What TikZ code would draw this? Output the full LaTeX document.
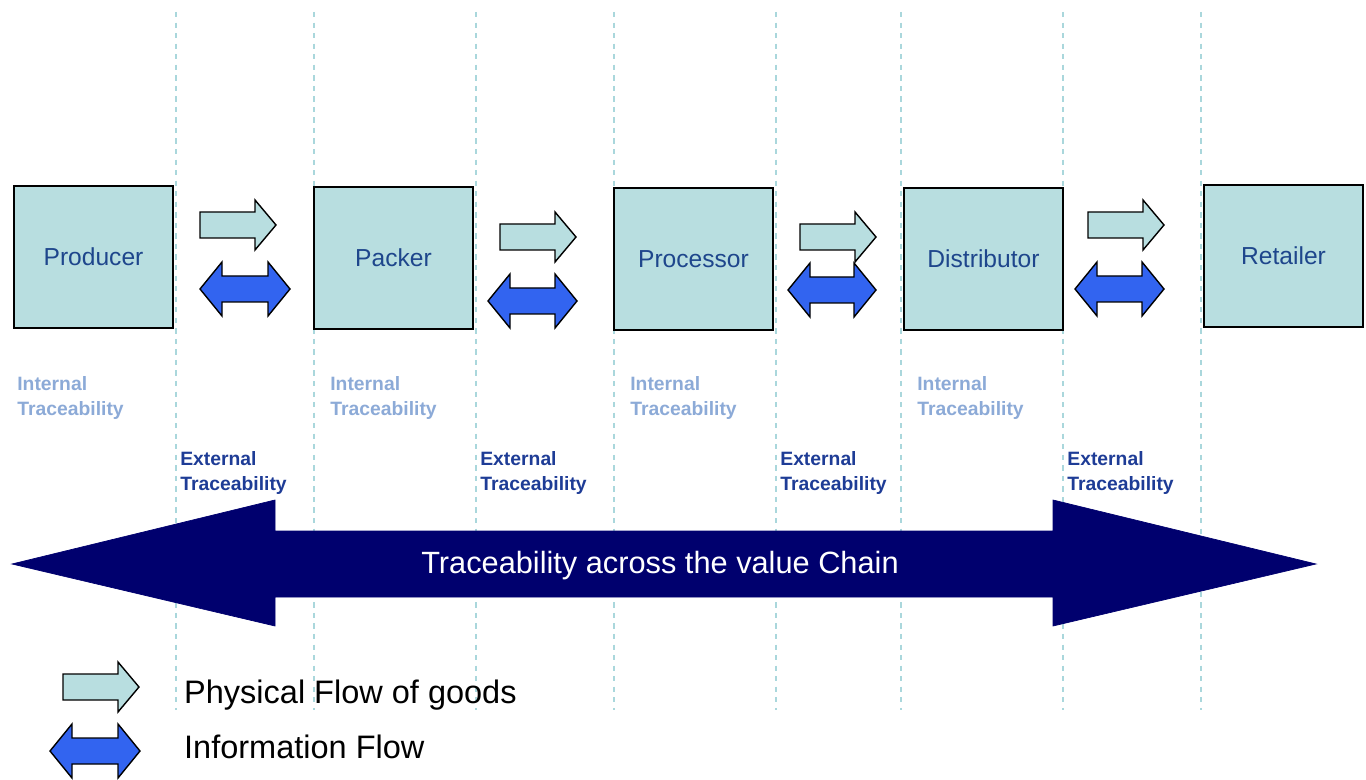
\documentclass[tikz,border=0pt]{standalone}
\usepackage{fontspec}
\setmainfont{Liberation Sans}
\usepackage{tikz}

\definecolor{boxfill}{RGB}{184,222,224}
\definecolor{boxtext}{RGB}{30,70,140}
\definecolor{infoblue}{RGB}{50,100,240}
\definecolor{navy}{RGB}{0,0,110}
\definecolor{intblue}{RGB}{140,170,215}
\definecolor{extblue}{RGB}{30,60,150}
\definecolor{sepline}{RGB}{170,215,220}

\tikzset{
	stage/.style={draw=black, line width=1.2pt, fill=boxfill, minimum width=3.18cm,
		minimum height=2.84cm, text=boxtext, font=\fontsize{14}{16}\selectfont},
	intlabel/.style={anchor=north west, align=left, text=intblue,
		font=\bfseries\fontsize{11}{14.5}\selectfont, inner sep=0pt},
	extlabel/.style={anchor=north west, align=left, text=extblue,
		font=\bfseries\fontsize{11}{14.5}\selectfont, inner sep=0pt},
	goods/.style={draw=black, line width=0.8pt, fill=boxfill},
	info/.style={draw=black, line width=0.8pt, fill=infoblue}
}

% physical arrow: left x, centre y
\newcommand{\goodsarrow}[2]{%
	\draw[goods] (#1,#2-13) -- ++(55,0) -- ++(0,-12) -- (#1+76,#2) -- (#1+55,#2+25)
		-- ++(0,-12) -- (#1,#2+13) -- cycle;}
% information arrow: left x, right x, centre y
\newcommand{\infoarrow}[3]{%
	\draw[info] (#1,#3) -- (#1+22,#3-27) -- ++(0,14) -- (#2-22,#3-13) -- ++(0,-14)
		-- (#2,#3) -- (#2-22,#3+27) -- ++(0,-14) -- (#1+22,#3+13) -- ++(0,14) -- cycle;}

\begin{document}
\begin{tikzpicture}[x=0.02cm, y=-0.02cm]
	\useasboundingbox (0,0) rectangle (1366,780);

	% separators
	\foreach \sx in {176,314,476,614,776,901,1063,1201}
		\draw[sepline, dashed, line width=0.7pt] (\sx,12) -- (\sx,710);

	% stages
	\node[stage] (producer)    at (93.5,257)  {Producer};
	\node[stage] (packer)      at (393.5,258) {Packer};
	\node[stage] (processor)   at (693.5,259) {Processor};
	\node[stage] (distributor) at (983.5,259) {Distributor};
	\node[stage] (retailer)    at (1283.5,256) {Retailer};

	% flows between stages
	\goodsarrow{200}{225}  \infoarrow{200}{290}{289}
	\goodsarrow{500}{237}  \infoarrow{488}{577}{301}
	\goodsarrow{800}{237}  \infoarrow{788}{876}{290}
	\goodsarrow{1088}{225} \infoarrow{1075}{1164}{289}

	% traceability labels
	\foreach \ix in {17,330,630,917}
		\node[intlabel] at (\ix,376) {Internal\\Traceability};
	\foreach \ex in {180,480,780,1067}
		\node[extlabel] at (\ex,451) {External\\Traceability};

	% chain arrow
	\draw[navy, fill=navy] (12,564) -- (275,500) -- (275,531) -- (1053,531) -- (1053,500)
		-- (1316,564) -- (1053,626) -- (1053,597) -- (275,597) -- (275,626) -- cycle;
	\node[text=white, font=\fontsize{17.5}{20}\selectfont] (chain) at (660,566)
		{Traceability across the value Chain};

	% legend
	\goodsarrow{63}{687}
	\infoarrow{50}{140}{751}
	\node[anchor=west, font=\fontsize{18.5}{22}\selectfont] (physlbl) at (178,695) {Physical Flow of goods};
	\node[anchor=west, font=\fontsize{18.5}{22}\selectfont] (infolbl) at (178,747) {Information Flow};
\end{tikzpicture}
\end{document}
